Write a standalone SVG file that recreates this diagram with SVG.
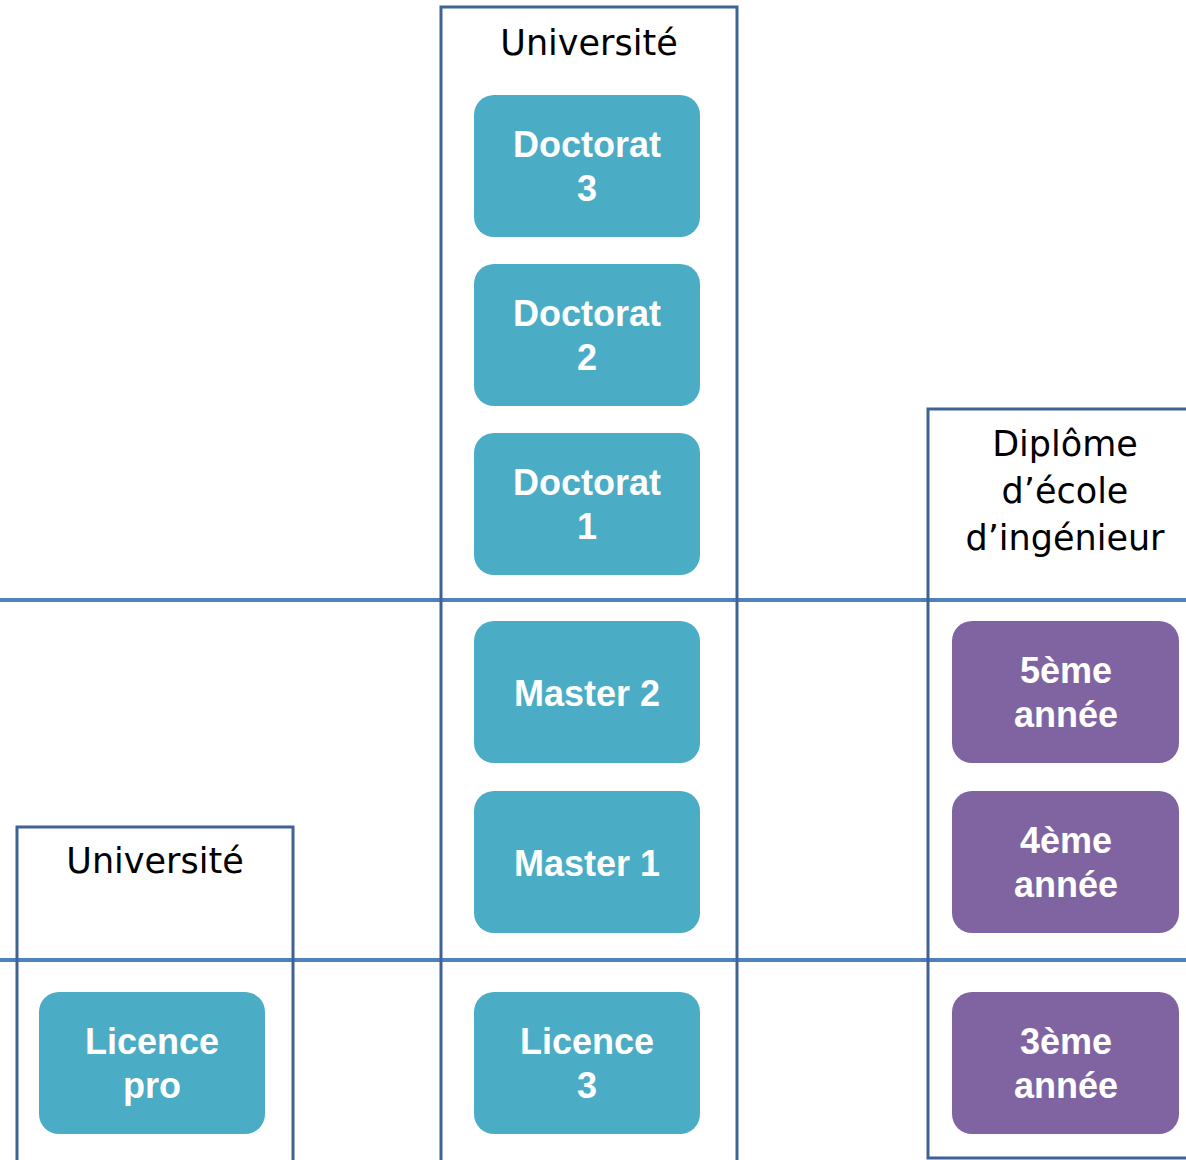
<svg xmlns="http://www.w3.org/2000/svg" width="1186" height="1160" viewBox="0 0 1186 1160">
<style>
.frame{fill:none;stroke:#3F6394;stroke-width:3}
.hline{stroke:#4F81BD;stroke-width:4}
.teal{fill:#4BACC6}
.purple{fill:#8064A2}
.hdr{font-family:"DejaVu Sans",sans-serif;font-size:35px;fill:#000;text-anchor:middle}
.lbl{font-family:"Liberation Sans",Arial,sans-serif;font-weight:bold;font-size:36px;fill:#fff;text-anchor:middle}
</style>
<rect width="1186" height="1160" fill="#fff"/>
<g id="connectors">
<line class="hline" x1="0" y1="600" x2="1186" y2="600"/>
<line class="hline" x1="0" y1="960" x2="1186" y2="960"/>
</g>
<g id="col-universite-center">
<rect class="frame" x="441" y="7" width="296" height="1200"/>
<text class="hdr" x="589" y="55">Université</text>
</g>
<g id="col-universite-left">
<rect class="frame" x="17" y="827" width="276" height="400"/>
<text class="hdr" x="155" y="873">Université</text>
</g>
<g id="col-ingenieur">
<rect class="frame" x="928" y="409" width="300" height="749"/>
<text class="hdr" x="1065" y="456">Diplôme</text>
<text class="hdr" x="1065" y="503">d’école</text>
<text class="hdr" x="1065" y="550">d’ingénieur</text>
</g>
<g id="doctorat3"><rect class="teal" x="474" y="95" width="226" height="142" rx="20"/><text class="lbl" x="587" y="157">Doctorat</text><text class="lbl" x="587" y="201">3</text></g>
<g id="doctorat2"><rect class="teal" x="474" y="264" width="226" height="142" rx="20"/><text class="lbl" x="587" y="326">Doctorat</text><text class="lbl" x="587" y="370">2</text></g>
<g id="doctorat1"><rect class="teal" x="474" y="433" width="226" height="142" rx="20"/><text class="lbl" x="587" y="495">Doctorat</text><text class="lbl" x="587" y="539">1</text></g>
<g id="master2"><rect class="teal" x="474" y="621" width="226" height="142" rx="20"/><text class="lbl" x="587" y="706">Master 2</text></g>
<g id="master1"><rect class="teal" x="474" y="791" width="226" height="142" rx="20"/><text class="lbl" x="587" y="876">Master 1</text></g>
<g id="licence3"><rect class="teal" x="474" y="992" width="226" height="142" rx="20"/><text class="lbl" x="587" y="1054">Licence</text><text class="lbl" x="587" y="1098">3</text></g>
<g id="licencepro"><rect class="teal" x="39" y="992" width="226" height="142" rx="20"/><text class="lbl" x="152" y="1054">Licence</text><text class="lbl" x="152" y="1098">pro</text></g>
<g id="annee5"><rect class="purple" x="952" y="621" width="227" height="142" rx="20"/><text class="lbl" x="1066" y="683">5ème</text><text class="lbl" x="1066" y="727">année</text></g>
<g id="annee4"><rect class="purple" x="952" y="791" width="227" height="142" rx="20"/><text class="lbl" x="1066" y="853">4ème</text><text class="lbl" x="1066" y="897">année</text></g>
<g id="annee3"><rect class="purple" x="952" y="992" width="227" height="142" rx="20"/><text class="lbl" x="1066" y="1054">3ème</text><text class="lbl" x="1066" y="1098">année</text></g>
</svg>
